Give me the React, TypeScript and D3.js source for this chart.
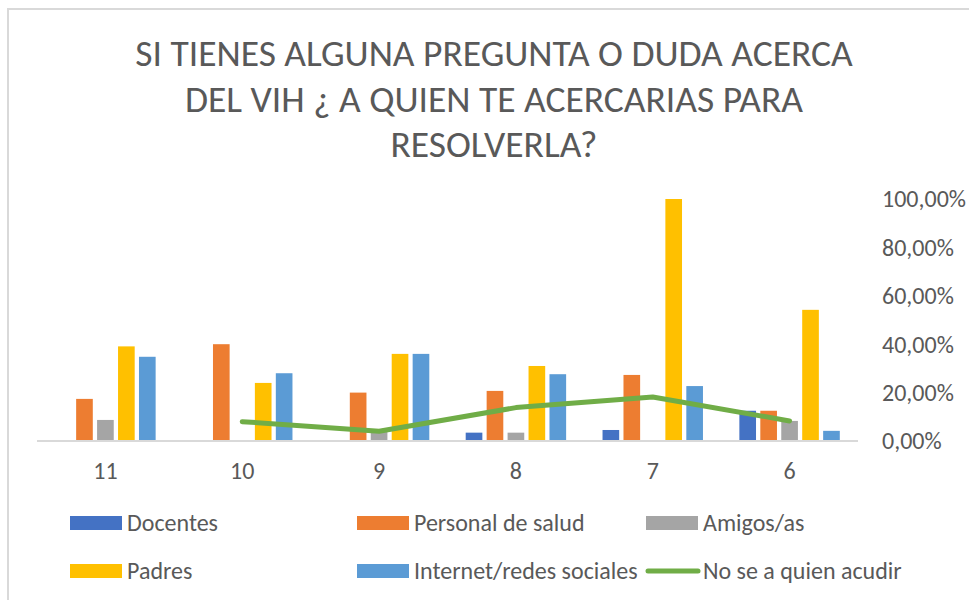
import React from "react";
import * as d3 from "d3";

const width = 969;
const height = 600;

const titleLines = [
  "SI TIENES ALGUNA PREGUNTA O DUDA ACERCA",
  "DEL VIH ¿ A QUIEN TE ACERCARIAS PARA",
  "RESOLVERLA?",
];

const grades = ["11", "10", "9", "8", "7", "6"];
const barSeries = ["Docentes", "Personal de salud", "Amigos/as", "Padres", "Internet/redes sociales"];
const lineSeries = "No se a quien acudir";

const docentes = [0, 0, 0, 0.0345, 0.0455, 0.125];
const personalSalud = [0.174, 0.4, 0.2, 0.207, 0.273, 0.125];
const amigos = [0.087, 0, 0.04, 0.0345, 0, 0.083];
const padres = [0.391, 0.24, 0.36, 0.31, 1.0, 0.542];
const internet = [0.348, 0.28, 0.36, 0.276, 0.227, 0.042];
const noSe = [null, 0.08, 0.04, 0.138, 0.182, 0.083];

const yTicks = [0, 0.2, 0.4, 0.6, 0.8, 1.0];

const colors = ["#4472C4", "#ED7D31", "#A5A5A5", "#FFC000", "#5B9BD5"];
const lineColor = "#70AD47";
const textColor = "#595959";
const font = "Carlito, Calibri, 'Open Sans', sans-serif";

const plot = { left: 37, right: 858, top: 199, bottom: 441 };

export default function App() {
  const barValues = [docentes, personalSalud, amigos, padres, internet];

  const x = d3.scaleBand().domain(grades).range([plot.left, plot.right]).padding(0);
  const inner = d3
    .scaleBand()
    .domain(barSeries)
    .range([18.2, x.bandwidth() - 18.2])
    .paddingInner(0.205)
    .paddingOuter(0);
  const y = d3.scaleLinear().domain([0, 1]).range([plot.bottom, plot.top]);

  const fmt = (v: number) => d3.format(".2f")(v * 100).replace(".", ",") + "%";

  const linePts = grades.map((g, i) => ({ g, v: noSe[i] }));
  const line = d3
    .line<{ g: string; v: number | null }>()
    .defined((d) => d.v !== null)
    .x((d) => (x(d.g) as number) + x.bandwidth() / 2)
    .y((d) => y(d.v as number));

  const legendRows = [
    [
      { name: barSeries[0], color: colors[0], kind: "bar" },
      { name: barSeries[1], color: colors[1], kind: "bar" },
      { name: barSeries[2], color: colors[2], kind: "bar" },
    ],
    [
      { name: barSeries[3], color: colors[3], kind: "bar" },
      { name: barSeries[4], color: colors[4], kind: "bar" },
      { name: lineSeries, color: lineColor, kind: "line" },
    ],
  ];
  const legendX = [70, 357, 646];
  const legendY = [523, 571];

  return (
    <svg
      width={width}
      height={height}
      style={{ position: "absolute", left: 0, top: 0, background: "#fff" }}
      fontFamily={font}
    >
      <rect x={8} y={9} width={width} height={height} fill="#fff" stroke="#d9d9d9" strokeWidth={2} />

      {titleLines.map((t, i) => (
        <text key={t} x={494} y={66 + i * 45.5} textAnchor="middle" fontSize={37.5} fill={textColor}>
          {t}
        </text>
      ))}

      {barValues.map((vals, si) => (
        <g key={barSeries[si]} fill={colors[si]}>
          {grades.map((g, i) => (
            <rect
              key={g}
              x={(x(g) as number) + (inner(barSeries[si]) as number)}
              y={y(vals[i])}
              width={inner.bandwidth()}
              height={y(0) - y(vals[i])}
            />
          ))}
        </g>
      ))}

      <line x1={plot.left} x2={plot.right} y1={y(0)} y2={y(0)} stroke="#d9d9d9" strokeWidth={2} />

      <path d={line(linePts) || ""} fill="none" stroke={lineColor} strokeWidth={5} strokeLinecap="round" strokeLinejoin="round" />

      {grades.map((g) => (
        <text key={g} x={(x(g) as number) + x.bandwidth() / 2} y={479} textAnchor="middle" fontSize={24} fill={textColor}>
          {g}
        </text>
      ))}

      {yTicks.map((t) => (
        <text key={t} x={882} y={y(t)} dy="0.35em" fontSize={24} fill={textColor}>
          {fmt(t)}
        </text>
      ))}

      {legendRows.map((row, r) =>
        row.map((item, c) => (
          <g key={item.name} transform={`translate(${legendX[c]},${legendY[r]})`}>
            {item.kind === "bar" ? (
              <rect x={0} y={-7} width={52} height={14} fill={item.color} />
            ) : (
              <line x1={2} x2={52} y1={0} y2={0} stroke={item.color} strokeWidth={5} strokeLinecap="round" />
            )}
            <text x={57} y={0} dy="0.35em" fontSize={24} fill={textColor}>
              {item.name}
            </text>
          </g>
        ))
      )}
    </svg>
  );
}
